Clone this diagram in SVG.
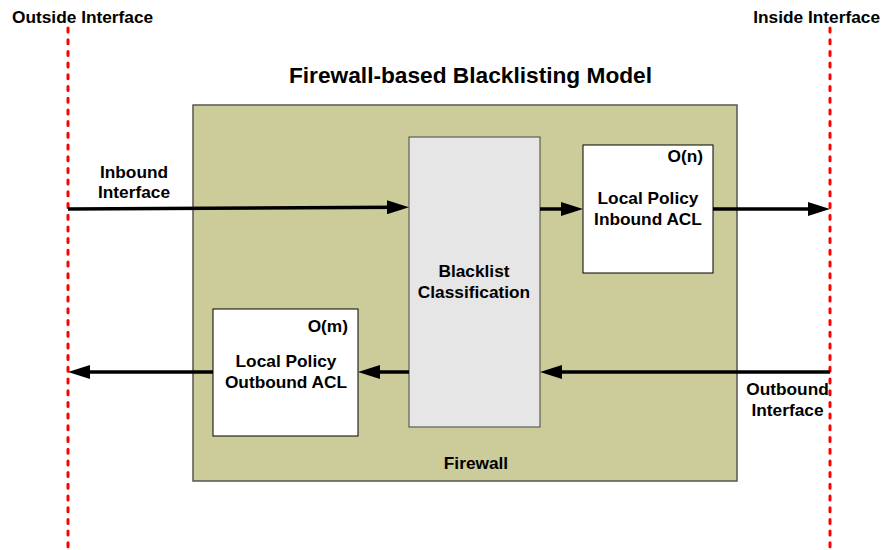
<svg xmlns="http://www.w3.org/2000/svg" width="882" height="550" viewBox="0 0 882 550">
<style>
text{font-family:"Liberation Sans",Arial,sans-serif;font-weight:bold;fill:#000;font-size:17.3px}
.title{font-size:22.7px}
.mid{text-anchor:middle}
.end{text-anchor:end}
.iface{stroke:#ff0000;stroke-width:3;stroke-dasharray:4 7.7;stroke-linecap:round;fill:none}
.conn{stroke:#000;stroke-width:3.5;fill:none;marker-end:url(#ah)}
.white{fill:#fff;stroke:#000;stroke-width:1}
</style>
<defs>
<marker id="ah" markerUnits="userSpaceOnUse" markerWidth="22" markerHeight="14" refX="10" refY="7" orient="auto">
<path d="M0,0 L22,7 L0,14 z" fill="#000"/>
</marker>
</defs>
<rect width="882" height="550" fill="#fff"/>
<g id="interfaces">
<line class="iface" x1="68" y1="28" x2="68" y2="547"/>
<line class="iface" x1="830" y1="28" x2="830" y2="547"/>
<text x="12" y="23">Outside Interface</text>
<text class="end" x="880" y="23">Inside Interface</text>
</g>
<text class="title mid" x="470.5" y="83">Firewall-based Blacklisting Model</text>
<g id="firewall">
<rect x="193" y="105" width="544" height="376" fill="#cccc9a" stroke="#555" stroke-width="1.5"/>
<text class="mid" x="476" y="469">Firewall</text>
</g>
<g id="blacklist">
<rect x="409" y="137" width="131" height="290" fill="#e6e6e6" stroke="#444" stroke-width="1"/>
<text class="mid" x="474" y="277">Blacklist</text>
<text class="mid" x="474" y="298">Classification</text>
</g>
<g id="inbound-acl">
<rect class="white" x="583" y="145" width="130" height="128"/>
<text class="end" x="703" y="162">O(n)</text>
<text class="mid" x="648" y="204">Local Policy</text>
<text class="mid" x="648" y="225">Inbound ACL</text>
</g>
<g id="outbound-acl">
<rect class="white" x="213" y="309" width="145" height="127"/>
<text class="end" x="348" y="332">O(m)</text>
<text class="mid" x="286" y="367">Local Policy</text>
<text class="mid" x="286" y="388">Outbound ACL</text>
</g>
<g id="labels">
<text class="mid" x="134" y="178">Inbound</text>
<text class="mid" x="134" y="198">Interface</text>
<text class="mid" x="787.5" y="395">Outbound</text>
<text class="mid" x="787.5" y="416">Interface</text>
</g>
<g id="connectors">
<line class="conn" x1="68" y1="209" x2="397" y2="207.2"/>
<line class="conn" x1="540" y1="209" x2="571" y2="209"/>
<line class="conn" x1="713" y1="209" x2="818" y2="209"/>
<line class="conn" x1="830" y1="372" x2="552" y2="372"/>
<line class="conn" x1="409" y1="372" x2="370" y2="372"/>
<line class="conn" x1="213" y1="372" x2="80" y2="372"/>
</g>
</svg>
